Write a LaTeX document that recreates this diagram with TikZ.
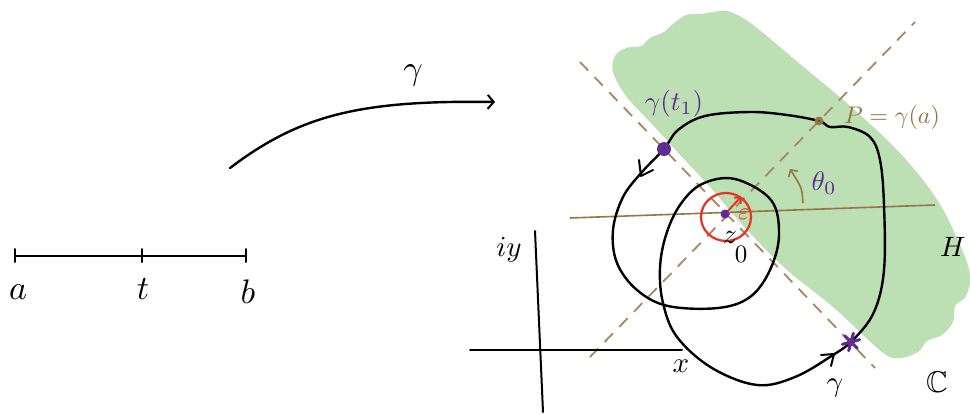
\documentclass[tikz,border=0pt]{standalone}
\usepackage{amssymb}
\usetikzlibrary{arrows.meta}
\definecolor{leaf}{RGB}{188,223,180}
\definecolor{tanline}{RGB}{170,135,95}
\definecolor{bronze}{RGB}{150,117,72}
\definecolor{plum}{RGB}{95,45,145}
\definecolor{scarlet}{RGB}{232,50,35}
\begin{document}
\begin{tikzpicture}[x=1pt,y=-1pt,
  ink/.style={line width=2.4pt,line cap=round,line join=round},
  thin ink/.style={line width=2pt,line cap=round,line join=round},
  guide/.style={tanline,line width=1.8pt,dash pattern=on 12pt off 9pt},
  lbl/.style={inner sep=0pt,scale=#1},
  barb/.style={-{Straight Barb[length=6pt,width=14pt,line width=2pt]}}]
\useasboundingbox[fill=white] (0,0) rectangle (970,415);

% green half-plane
\fill[leaf] plot[smooth cycle,tension=0.55] coordinates {
 (613,72) (615,56) (626,48) (641,46) (650,38) (664,32) (673,24) (686,15)
 (701,14) (713,12) (727,11) (743,18) (762,32) (800,64) (850,106) (900,153)
 (936,198) (958,240) (970,274) (966,296) (955,306) (953,322) (942,335)
 (927,341) (918,352) (900,358) (882,352) (833,307) (787,270) (747,230)
 (710,187) (683,158) (650,122) (626,96)};

% guide lines
\coordinate (g1a) at (580,62);  \coordinate (g1b) at (875,368);
\coordinate (g2a) at (590,357); \coordinate (g2b) at (915,22);
\coordinate (h1a) at (570,218); \coordinate (h1b) at (935,205);
\draw[guide] (g1a) -- (g1b);
\draw[guide] (g2a) -- (g2b);
\draw[bronze,line width=1.6pt] (h1a) -- (h1b);

% angle arrow
\coordinate (t0) at (803,203); \coordinate (t1) at (790,169);
\draw[bronze,line width=1.6pt,-{Straight Barb[length=5pt,width=11pt,line width=1.6pt]}] (t0) .. controls (802,188) .. (t1);

% interval [a,b]
\coordinate (ia) at (15,256); \coordinate (it) at (142,256); \coordinate (ib) at (246,256);
\draw[thin ink] (ia) -- (ib);
\foreach \p in {ia,it,ib} \draw[thin ink] ([yshift=-6pt]\p) -- ([yshift=7pt]\p);
\node[lbl=3.4] (la) at (18,292) {$a$};
\node[lbl=3.4] (lt) at (143,289) {$t$};
\node[lbl=3.4] (lb) at (248,292) {$b$};

% mapping arrow
\coordinate (m0) at (230,168); \coordinate (m1) at (495,102);
\draw[ink,barb] (m0) .. controls (300,115) and (360,100) .. (m1);
\node[lbl=3.4] (lg) at (413,75) {$\gamma$};

% axes
\coordinate (ya) at (535,231); \coordinate (yb) at (543,412);
\coordinate (xa) at (470,350); \coordinate (xb) at (682,350);
\draw[thin ink] (ya) -- (yb);
\draw[thin ink] (xa) -- (xb);
\node[lbl=2.9] (liy) at (509,250) {$iy$};
\node[lbl=2.9] (lx) at (681,366) {$x$};

% the closed curve gamma
\draw[ink] plot[smooth cycle,tension=0.6] coordinates {
 (819,121) (787,115) (750,112) (705,116) (678,130) (664,149) (642,172)
 (623,197) (613,230) (617,263) (637,290) (668,306) (718,308) (750,297)
 (770,270) (779,235) (771,200) (735,179) (702,184) (680,205) (666,235)
 (660,268) (663,303) (677,337) (712,368) (757,385) (795,377) (833,355)
 (853,340) (874,312) (884,270) (884,205) (880,160) (870,137) (848,127) (830,127)};
% direction marks
\draw[thin ink] (639,160) -- (641,176) -- (653,170);
\draw[thin ink] (821,355) -- (834,354) -- (831,366);

% red epsilon disc
\draw[scarlet,line width=2.2pt] (726,217) ellipse [x radius=25pt,y radius=24pt];
\coordinate (z0) at (725,214);
\coordinate (ep) at (741,197);
\draw[scarlet,line width=2pt,-{Straight Barb[length=4pt,width=9pt,line width=1.8pt]}] (z0) -- (ep);
\node[lbl=2.4,text=scarlet] (leps) at (744,214) {$\varepsilon$};
\fill[plum] (z0) circle (4.5pt);
\node[lbl=2.8] (lz) at (730,237) {$z$};
\node[lbl=2.5] (lz0) at (741,254) {$0$};

% points
\fill[plum] (664,149) circle (7pt);
\node[lbl=2.7,text=plum] (lgt) at (674,104) {$\gamma(t_1)$};
\fill[bronze] (819,121) circle (4.5pt);
\fill[black!70] (819,121) circle (1.2pt);
\node[lbl=2.4,text=bronze] (lP) at (892,117) {$P=\gamma(a)$};
\node[lbl=2.7,text=plum] (lth) at (824,183) {$\theta_0$};

% star mark
\foreach \a in {0,60,120,180,240,300}
  \draw[plum,line width=3pt,line cap=round] (851,342) -- ++(\a+15:9pt);
\fill[plum] (851,342) circle (4pt);

\node[lbl=2.9] (lgb) at (835,388) {$\gamma$};
\node[lbl=2.8] (lH) at (953,247) {$H$};
\node[lbl=3.0] (lC) at (937,382) {$\mathbb{C}$};
\end{tikzpicture}
\end{document}
